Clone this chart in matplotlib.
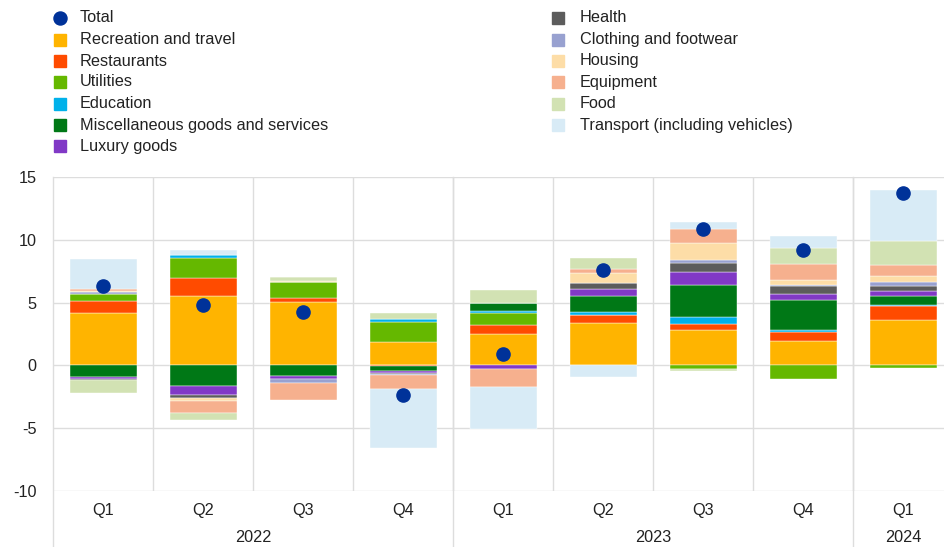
import matplotlib
matplotlib.use('agg')
import matplotlib.pyplot as plt
from matplotlib.lines import Line2D
import matplotlib.transforms as mtransforms
import numpy as np

plt.rcParams['font.family'] = ['Liberation Sans', 'DejaVu Sans']
plt.rcParams['font.size'] = 11.7

quarters = ['Q1', 'Q2', 'Q3', 'Q4', 'Q1', 'Q2', 'Q3', 'Q4', 'Q1']
years = ['2022', '2023', '2024']
year_centres = [1.5, 5.5, 8.0]
year_breaks = [3.5, 7.5]

recreation = [4.15, 5.55, 5.03, 1.85, 2.49, 3.41, 2.83, 1.93, 3.65]
restaurants = [0.98, 1.43, 0.32, -0.08, 0.71, 0.61, 0.50, 0.71, 1.06]
utilities = [0.53, 1.61, 1.32, 1.64, 1.00, 0.00, -0.26, -1.11, -0.24]
education = [0.00, 0.18, 0.00, 0.24, 0.10, 0.21, 0.53, 0.21, 0.08]
misc = [-0.95, -1.61, -0.87, -0.34, 0.63, 1.32, 2.57, 2.35, 0.71]
luxury = [-0.16, -0.71, -0.21, -0.15, -0.29, 0.50, 1.00, 0.48, 0.40]
health = [-0.08, -0.26, 0.00, -0.11, 0.00, 0.50, 0.71, 0.61, 0.40]
clothing = [0.20, 0.00, -0.32, -0.05, 0.00, 0.00, 0.29, 0.13, 0.32]
housing = [0.08, -0.24, 0.08, 0.00, 0.00, 0.82, 1.32, 0.40, 0.50]
equipment = [0.14, -1.00, -1.32, -1.11, -1.46, 0.32, 1.14, 1.22, 0.90]
food = [-1.00, -0.53, 0.26, 0.48, 1.11, 0.90, -0.18, 1.32, 1.85]
transport = [2.43, 0.45, 0.00, -4.71, -3.28, -0.95, 0.50, 0.93, 4.10]
total = [6.30, 4.84, 4.23, -2.38, 0.90, 7.60, 10.85, 9.15, 13.70]

series = [
    ('Recreation and travel', recreation, '#FFB400'),
    ('Restaurants', restaurants, '#FF4B00'),
    ('Utilities', utilities, '#65B800'),
    ('Education', education, '#00B1EA'),
    ('Miscellaneous goods and services', misc, '#007816'),
    ('Luxury goods', luxury, '#8139C6'),
    ('Health', health, '#5C5C5C'),
    ('Clothing and footwear', clothing, '#98A1D0'),
    ('Housing', housing, '#FDDDA7'),
    ('Equipment', equipment, '#F6B08E'),
    ('Food', food, '#D2E2B3'),
    ('Transport (including vehicles)', transport, '#D8EBF6'),
]
total_colour = '#003299'
grid_colour = '#DDDDDD'
text_colour = '#222222'

W, H = 944, 547
fig = plt.figure(figsize=(W / 100, H / 100), dpi=100)
ax_l, ax_r, ax_t, ax_b = 53, 944, 177, 491
ax = fig.add_axes([ax_l / W, 1 - ax_b / H, (ax_r - ax_l) / W, (ax_b - ax_t) / H])

x = np.arange(len(quarters))
pos = np.zeros(len(x))
neg = np.zeros(len(x))
for name, vals, col in series:
    v = np.array(vals)
    bottoms = np.where(v >= 0, pos, neg)
    ax.bar(x, v, 0.67, bottom=bottoms, color=col, edgecolor='white',
           linewidth=0.3, zorder=3)
    pos = pos + np.where(v >= 0, v, 0)
    neg = neg + np.where(v < 0, v, 0)

ax.plot(x, total, 'o', color=total_colour, markersize=9.5, zorder=5)

ax.set_ylim(-10, 15)
ax.set_xlim(-0.5, 8.41)
ax.set_yticks([-10, -5, 0, 5, 10, 15])
ax.set_yticklabels(['-10', '-5', '0', '5', '10', '15'], color=text_colour)
ax.set_xticks([])
ax.tick_params(axis='y', length=0, pad=12)
for s in ax.spines.values():
    s.set_visible(False)

for yv in [-10, -5, 0, 5, 10, 15]:
    ax.axhline(yv, color=grid_colour, lw=1.0, zorder=1)
for xv in np.arange(0.5, 8, 1.0):
    ax.axvline(xv, color=grid_colour, lw=1.0, zorder=1)

# separators below the plot (left edge and year breaks)
trans = mtransforms.blended_transform_factory(ax.transData, ax.transAxes)
drop = -(H - ax_b) / (ax_b - ax_t)
for xv in [-0.5] + year_breaks:
    ax.add_line(Line2D([xv, xv], [drop, 1], transform=trans, color=grid_colour,
                       lw=1.0, clip_on=False, zorder=1))

q_y = -(510 - ax_b) / (ax_b - ax_t)
yr_y = -(538 - ax_b) / (ax_b - ax_t)
for xi, q in zip(x, quarters):
    ax.text(xi, q_y, q, transform=trans, ha='center', va='center', color=text_colour)
for xc, yr in zip(year_centres, years):
    ax.text(xc, yr_y, yr, transform=trans, ha='center', va='center', color=text_colour)

# legend drawn by hand in two columns
entries = [('Total', total_colour, 'o')] + [(n, c, 's') for n, _, c in series]
row_y = [18, 39.5, 61, 82, 103.5, 125, 146]
for i, (label, col, mk) in enumerate(entries):
    if i < 7:
        mx, tx, ry = 60, 80, row_y[i]
    else:
        mx, tx, ry = 558, 580, row_y[i - 7]
    ms = 9.4 if mk == 'o' else 8.6
    fig.add_artist(Line2D([mx / W], [1 - ry / H], marker=mk, color=col,
                          markersize=ms, linestyle='none', transform=fig.transFigure))
    fig.text(tx / W, 1 - ry / H, label, ha='left', va='center', color=text_colour)

fig.savefig('out.png', dpi=100)
